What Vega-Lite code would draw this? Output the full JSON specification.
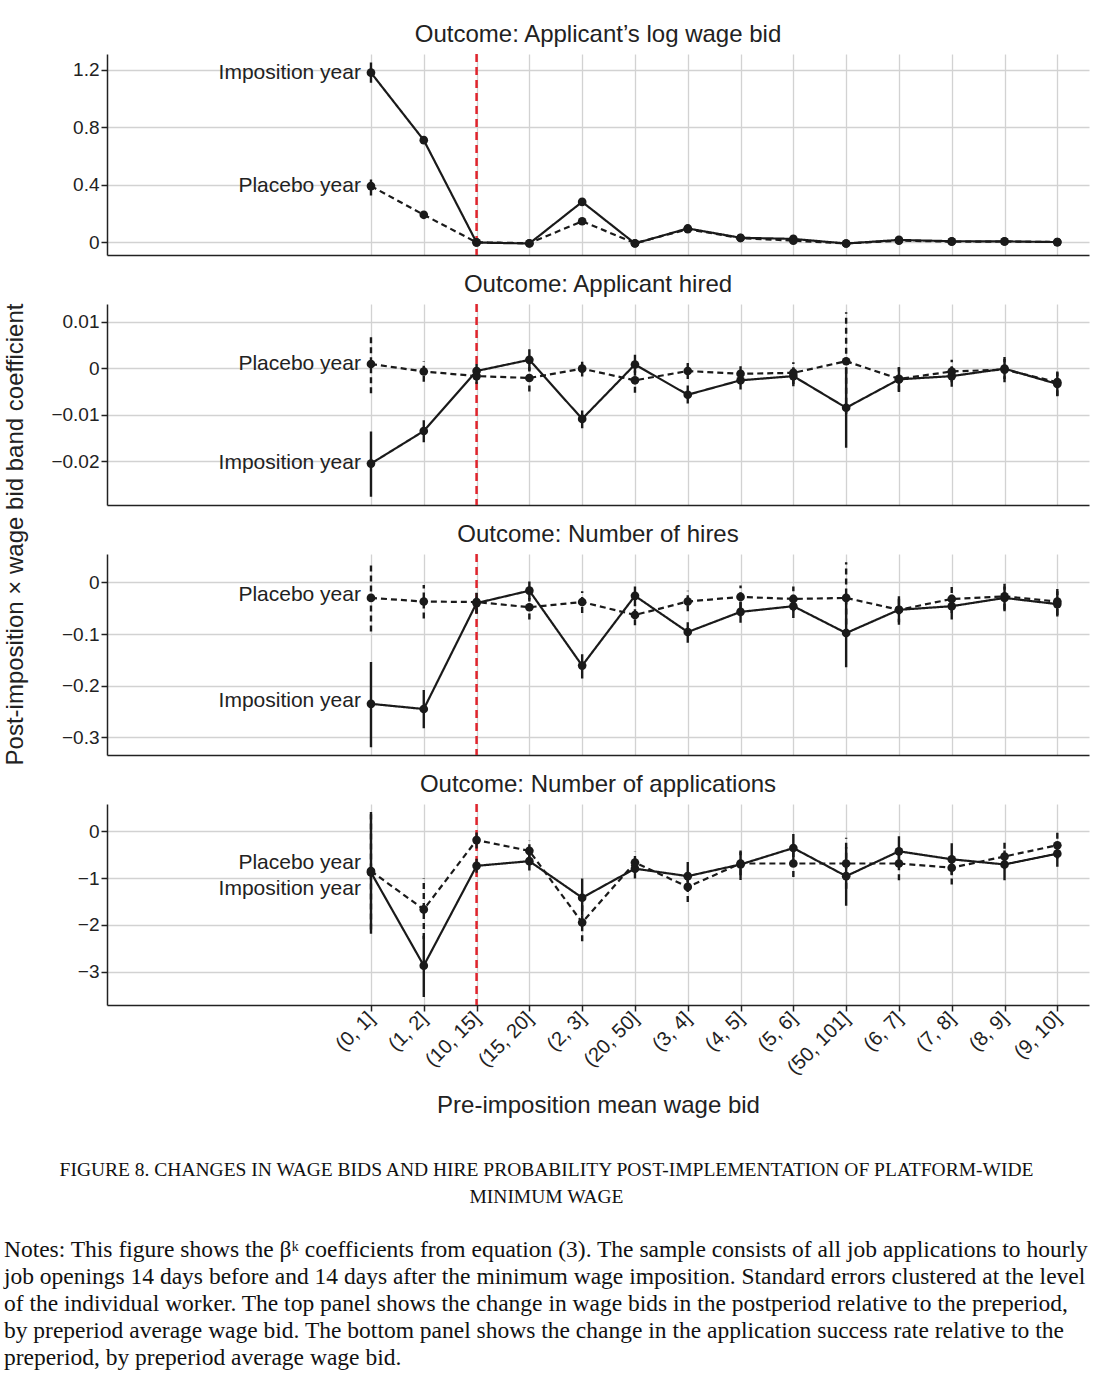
{
  "$schema": "https://vega.github.io/schema/vega-lite/v6.json",
  "padding": {"left": 3, "right": 12, "top": 22, "bottom": 8},
  "config": {
    "font": "Liberation Sans",
    "view": {"stroke": null},
    "axis": {"domainColor": "#222", "domainWidth": 1.5, "tickColor": "#222", "tickWidth": 1.5, "tickSize": 6, "gridColor": "#d2d2d2", "gridWidth": 1.3, "labelFont": "Liberation Sans", "labelFontSize": 19, "labelColor": "#222", "labelPadding": 2, "labelOverlap": false, "labelFlush": false, "labelBound": false, "titleFont": "Liberation Sans", "titleFontSize": 24, "titleFontWeight": "normal", "titleColor": "#222"},
    "title": {"font": "Liberation Sans", "fontSize": 24, "fontWeight": "normal", "color": "#222", "offset": 6, "frame": "group"}
  },
  "datasets": {
    "pts": [
      {"p":1,"k":1,"s":"Imposition year","est":1.18,"lo":1.11,"hi":1.25},
      {"p":1,"k":2,"s":"Imposition year","est":0.71,"lo":0.69,"hi":0.73},
      {"p":1,"k":3,"s":"Imposition year","est":-0.003,"lo":-0.01,"hi":0.005},
      {"p":1,"k":4,"s":"Imposition year","est":-0.01,"lo":-0.017,"hi":-0.003},
      {"p":1,"k":5,"s":"Imposition year","est":0.28,"lo":0.27,"hi":0.29},
      {"p":1,"k":6,"s":"Imposition year","est":-0.01,"lo":-0.017,"hi":-0.003},
      {"p":1,"k":7,"s":"Imposition year","est":0.095,"lo":0.088,"hi":0.102},
      {"p":1,"k":8,"s":"Imposition year","est":0.03,"lo":0.024,"hi":0.036},
      {"p":1,"k":9,"s":"Imposition year","est":0.022,"lo":0.016,"hi":0.028},
      {"p":1,"k":10,"s":"Imposition year","est":-0.01,"lo":-0.016,"hi":-0.004},
      {"p":1,"k":11,"s":"Imposition year","est":0.015,"lo":0.009,"hi":0.021},
      {"p":1,"k":12,"s":"Imposition year","est":0.006,"lo":0.0,"hi":0.012},
      {"p":1,"k":13,"s":"Imposition year","est":0.005,"lo":0.0,"hi":0.01},
      {"p":1,"k":14,"s":"Imposition year","est":0.0,"lo":-0.005,"hi":0.005},
      {"p":1,"k":1,"s":"Placebo year","est":0.39,"lo":0.325,"hi":0.455},
      {"p":1,"k":2,"s":"Placebo year","est":0.19,"lo":0.18,"hi":0.2},
      {"p":1,"k":3,"s":"Placebo year","est":-0.002,"lo":-0.009,"hi":0.005},
      {"p":1,"k":4,"s":"Placebo year","est":-0.008,"lo":-0.015,"hi":-0.001},
      {"p":1,"k":5,"s":"Placebo year","est":0.145,"lo":0.135,"hi":0.155},
      {"p":1,"k":6,"s":"Placebo year","est":-0.008,"lo":-0.014,"hi":-0.002},
      {"p":1,"k":7,"s":"Placebo year","est":0.09,"lo":0.083,"hi":0.097},
      {"p":1,"k":8,"s":"Placebo year","est":0.028,"lo":0.022,"hi":0.034},
      {"p":1,"k":9,"s":"Placebo year","est":0.01,"lo":0.004,"hi":0.016},
      {"p":1,"k":10,"s":"Placebo year","est":-0.01,"lo":-0.016,"hi":-0.004},
      {"p":1,"k":11,"s":"Placebo year","est":0.01,"lo":0.004,"hi":0.016},
      {"p":1,"k":12,"s":"Placebo year","est":0.003,"lo":-0.002,"hi":0.008},
      {"p":1,"k":13,"s":"Placebo year","est":0.004,"lo":-0.001,"hi":0.009},
      {"p":1,"k":14,"s":"Placebo year","est":0.0,"lo":-0.005,"hi":0.005},

      {"p":2,"k":1,"s":"Imposition year","est":-0.0205,"lo":-0.0276,"hi":-0.0136},
      {"p":2,"k":2,"s":"Imposition year","est":-0.0135,"lo":-0.0159,"hi":-0.0112},
      {"p":2,"k":3,"s":"Imposition year","est":-0.0006,"lo":-0.0023,"hi":0.0009},
      {"p":2,"k":4,"s":"Imposition year","est":0.0018,"lo":-0.0005,"hi":0.0041},
      {"p":2,"k":5,"s":"Imposition year","est":-0.0109,"lo":-0.0129,"hi":-0.0091},
      {"p":2,"k":6,"s":"Imposition year","est":0.0008,"lo":-0.0016,"hi":0.0029},
      {"p":2,"k":7,"s":"Imposition year","est":-0.0057,"lo":-0.0076,"hi":-0.0037},
      {"p":2,"k":8,"s":"Imposition year","est":-0.0026,"lo":-0.0046,"hi":-0.0005},
      {"p":2,"k":9,"s":"Imposition year","est":-0.0017,"lo":-0.0039,"hi":0.0002},
      {"p":2,"k":10,"s":"Imposition year","est":-0.0085,"lo":-0.0171,"hi":0.0002},
      {"p":2,"k":11,"s":"Imposition year","est":-0.0024,"lo":-0.0051,"hi":0.0002},
      {"p":2,"k":12,"s":"Imposition year","est":-0.0017,"lo":-0.004,"hi":0.0002},
      {"p":2,"k":13,"s":"Imposition year","est":-0.0001,"lo":-0.0023,"hi":0.002},
      {"p":2,"k":14,"s":"Imposition year","est":-0.0034,"lo":-0.0059,"hi":-0.0007},
      {"p":2,"k":1,"s":"Placebo year","est":0.0009,"lo":-0.0054,"hi":0.0071},
      {"p":2,"k":2,"s":"Placebo year","est":-0.0007,"lo":-0.0029,"hi":0.0015},
      {"p":2,"k":3,"s":"Placebo year","est":-0.0017,"lo":-0.0034,"hi":-0.0001},
      {"p":2,"k":4,"s":"Placebo year","est":-0.0021,"lo":-0.005,"hi":0.0002},
      {"p":2,"k":5,"s":"Placebo year","est":-0.0001,"lo":-0.0018,"hi":0.0014},
      {"p":2,"k":6,"s":"Placebo year","est":-0.0026,"lo":-0.0053,"hi":-0.0005},
      {"p":2,"k":7,"s":"Placebo year","est":-0.0006,"lo":-0.0023,"hi":0.0011},
      {"p":2,"k":8,"s":"Placebo year","est":-0.0012,"lo":-0.003,"hi":0.0007},
      {"p":2,"k":9,"s":"Placebo year","est":-0.001,"lo":-0.0034,"hi":0.0013},
      {"p":2,"k":10,"s":"Placebo year","est":0.0015,"lo":-0.0098,"hi":0.012},
      {"p":2,"k":11,"s":"Placebo year","est":-0.0023,"lo":-0.005,"hi":0.0002},
      {"p":2,"k":12,"s":"Placebo year","est":-0.0007,"lo":-0.003,"hi":0.0018},
      {"p":2,"k":13,"s":"Placebo year","est":-0.0003,"lo":-0.003,"hi":0.0024},
      {"p":2,"k":14,"s":"Placebo year","est":-0.003,"lo":-0.006,"hi":-0.0009},

      {"p":3,"k":1,"s":"Imposition year","est":-0.235,"lo":-0.319,"hi":-0.154},
      {"p":3,"k":2,"s":"Imposition year","est":-0.245,"lo":-0.282,"hi":-0.208},
      {"p":3,"k":3,"s":"Imposition year","est":-0.04,"lo":-0.06,"hi":-0.02},
      {"p":3,"k":4,"s":"Imposition year","est":-0.016,"lo":-0.037,"hi":0.002},
      {"p":3,"k":5,"s":"Imposition year","est":-0.161,"lo":-0.186,"hi":-0.139},
      {"p":3,"k":6,"s":"Imposition year","est":-0.026,"lo":-0.046,"hi":-0.008},
      {"p":3,"k":7,"s":"Imposition year","est":-0.096,"lo":-0.117,"hi":-0.077},
      {"p":3,"k":8,"s":"Imposition year","est":-0.057,"lo":-0.078,"hi":-0.037},
      {"p":3,"k":9,"s":"Imposition year","est":-0.046,"lo":-0.069,"hi":-0.024},
      {"p":3,"k":10,"s":"Imposition year","est":-0.098,"lo":-0.164,"hi":-0.03},
      {"p":3,"k":11,"s":"Imposition year","est":-0.053,"lo":-0.077,"hi":-0.027},
      {"p":3,"k":12,"s":"Imposition year","est":-0.046,"lo":-0.072,"hi":-0.024},
      {"p":3,"k":13,"s":"Imposition year","est":-0.03,"lo":-0.056,"hi":-0.008},
      {"p":3,"k":14,"s":"Imposition year","est":-0.042,"lo":-0.066,"hi":-0.017},
      {"p":3,"k":1,"s":"Placebo year","est":-0.03,"lo":-0.095,"hi":0.037},
      {"p":3,"k":2,"s":"Placebo year","est":-0.037,"lo":-0.07,"hi":-0.005},
      {"p":3,"k":3,"s":"Placebo year","est":-0.038,"lo":-0.06,"hi":-0.021},
      {"p":3,"k":4,"s":"Placebo year","est":-0.048,"lo":-0.072,"hi":-0.03},
      {"p":3,"k":5,"s":"Placebo year","est":-0.038,"lo":-0.059,"hi":-0.017},
      {"p":3,"k":6,"s":"Placebo year","est":-0.063,"lo":-0.083,"hi":-0.043},
      {"p":3,"k":7,"s":"Placebo year","est":-0.037,"lo":-0.056,"hi":-0.016},
      {"p":3,"k":8,"s":"Placebo year","est":-0.028,"lo":-0.05,"hi":-0.006},
      {"p":3,"k":9,"s":"Placebo year","est":-0.032,"lo":-0.056,"hi":-0.008},
      {"p":3,"k":10,"s":"Placebo year","est":-0.03,"lo":-0.101,"hi":0.039},
      {"p":3,"k":11,"s":"Placebo year","est":-0.053,"lo":-0.082,"hi":-0.03},
      {"p":3,"k":12,"s":"Placebo year","est":-0.032,"lo":-0.059,"hi":-0.005},
      {"p":3,"k":13,"s":"Placebo year","est":-0.027,"lo":-0.053,"hi":0.0},
      {"p":3,"k":14,"s":"Placebo year","est":-0.037,"lo":-0.063,"hi":-0.01},

      {"p":4,"k":1,"s":"Imposition year","est":-0.88,"lo":-2.19,"hi":0.41},
      {"p":4,"k":2,"s":"Imposition year","est":-2.87,"lo":-3.54,"hi":-2.23},
      {"p":4,"k":3,"s":"Imposition year","est":-0.74,"lo":-0.89,"hi":-0.59},
      {"p":4,"k":4,"s":"Imposition year","est":-0.64,"lo":-0.84,"hi":-0.44},
      {"p":4,"k":5,"s":"Imposition year","est":-1.42,"lo":-1.8,"hi":-1.01},
      {"p":4,"k":6,"s":"Imposition year","est":-0.8,"lo":-1.01,"hi":-0.59},
      {"p":4,"k":7,"s":"Imposition year","est":-0.96,"lo":-1.26,"hi":-0.66},
      {"p":4,"k":8,"s":"Imposition year","est":-0.71,"lo":-1.04,"hi":-0.41},
      {"p":4,"k":9,"s":"Imposition year","est":-0.36,"lo":-0.66,"hi":-0.06},
      {"p":4,"k":10,"s":"Imposition year","est":-0.96,"lo":-1.59,"hi":-0.34},
      {"p":4,"k":11,"s":"Imposition year","est":-0.43,"lo":-0.76,"hi":-0.11},
      {"p":4,"k":12,"s":"Imposition year","est":-0.6,"lo":-0.94,"hi":-0.26},
      {"p":4,"k":13,"s":"Imposition year","est":-0.71,"lo":-1.05,"hi":-0.41},
      {"p":4,"k":14,"s":"Imposition year","est":-0.48,"lo":-0.76,"hi":-0.23},
      {"p":4,"k":1,"s":"Placebo year","est":-0.85,"lo":-2.1,"hi":0.36},
      {"p":4,"k":2,"s":"Placebo year","est":-1.67,"lo":-2.3,"hi":-1.01},
      {"p":4,"k":3,"s":"Placebo year","est":-0.19,"lo":-0.37,"hi":-0.01},
      {"p":4,"k":4,"s":"Placebo year","est":-0.42,"lo":-0.62,"hi":-0.19},
      {"p":4,"k":5,"s":"Placebo year","est":-1.95,"lo":-2.35,"hi":-1.55},
      {"p":4,"k":6,"s":"Placebo year","est":-0.67,"lo":-0.87,"hi":-0.44},
      {"p":4,"k":7,"s":"Placebo year","est":-1.19,"lo":-1.51,"hi":-0.91},
      {"p":4,"k":8,"s":"Placebo year","est":-0.69,"lo":-0.94,"hi":-0.44},
      {"p":4,"k":9,"s":"Placebo year","est":-0.69,"lo":-0.98,"hi":-0.44},
      {"p":4,"k":10,"s":"Placebo year","est":-0.69,"lo":-1.23,"hi":-0.14},
      {"p":4,"k":11,"s":"Placebo year","est":-0.69,"lo":-1.05,"hi":-0.41},
      {"p":4,"k":12,"s":"Placebo year","est":-0.78,"lo":-1.14,"hi":-0.51},
      {"p":4,"k":13,"s":"Placebo year","est":-0.54,"lo":-0.8,"hi":-0.19},
      {"p":4,"k":14,"s":"Placebo year","est":-0.3,"lo":-0.59,"hi":0.02}
    ],
    "labs": [
      {"p":1,"k":1,"s":"Imposition year","ty":1.18},
      {"p":1,"k":1,"s":"Placebo year","ty":0.39},
      {"p":2,"k":1,"s":"Placebo year","ty":0.001},
      {"p":2,"k":1,"s":"Imposition year","ty":-0.0203},
      {"p":3,"k":1,"s":"Placebo year","ty":-0.025},
      {"p":3,"k":1,"s":"Imposition year","ty":-0.23},
      {"p":4,"k":1,"s":"Placebo year","ty":-0.68},
      {"p":4,"k":1,"s":"Imposition year","ty":-1.24}
    ],
    "cut": [
      {"p":1,"k":3},{"p":2,"k":3},{"p":3,"k":3},{"p":4,"k":3}
    ]
  },
  "title": {
    "text": [
      "Notes: This figure shows the βᵏ coefficients from equation (3). The sample consists of all job applications to hourly",
      "job openings 14 days before and 14 days after the minimum wage imposition. Standard errors clustered at the level",
      "of the individual worker. The top panel shows the change in wage bids in the postperiod relative to the preperiod,",
      "by preperiod average wage bid. The bottom panel shows the change in the application success rate relative to the",
      "preperiod, by preperiod average wage bid."
    ],
    "orient": "bottom", "anchor": "start", "frame": "bounds",
    "font": "Liberation Serif", "fontSize": 23.5, "fontWeight": "normal", "lineHeight": 27, "offset": 32, "color": "#111"
  },
  "vconcat": [
    {
      "title": {
        "text": ["FIGURE 8. CHANGES IN WAGE BIDS AND HIRE PROBABILITY POST-IMPLEMENTATION OF PLATFORM-WIDE", "MINIMUM WAGE"],
        "orient": "bottom", "anchor": "middle", "frame": "bounds",
        "font": "Liberation Serif", "fontSize": 19.5, "fontWeight": "normal", "lineHeight": 27, "offset": 43, "color": "#111"
      },
      "bounds": "flush",
      "spacing": 49,
      "vconcat": [
        {
          "width": 982, "height": 201,
          "title": {"text": "Outcome: Applicant’s log wage bid"},
          "data": {"name": "pts"},
          "transform": [{"filter": "datum.p == 1"}],
          "encoding": {
            "x": {"field": "k", "type": "quantitative", "scale": {"domain": [-4, 14.6], "nice": false, "zero": false},
                  "axis": {"values": [1,2,3,4,5,6,7,8,9,10,11,12,13,14], "labels": false, "ticks": false, "title": null}}
          },
          "resolve": {"axis": {"y": "independent"}},
          "layer": [
            {"data": {"name": "cut"}, "transform": [{"filter": "datum.p == 1"}],
             "mark": {"type": "rule", "color": "#e0242c", "strokeWidth": 2.5, "strokeDash": [8, 5]}, "encoding": {}},
            {"mark": {"type": "rule", "color": "#1a1a1a", "strokeWidth": 2.4},
             "encoding": {
               "y": {"field": "lo", "type": "quantitative", "scale": {"domain": [-0.09, 1.31], "nice": false, "zero": false},
                     "axis": {"values": [0, 0.4, 0.8, 1.2], "format": ".3~g", "title": null}},
               "y2": {"field": "hi"},
               "strokeDash": {"field": "s", "type": "nominal", "scale": {"domain": ["Imposition year", "Placebo year"], "range": [[1, 0], [6, 4]]}, "legend": null}
             }},
            {"mark": {"type": "line", "color": "#1a1a1a", "strokeWidth": 2.2},
             "encoding": {"y": {"field": "est", "type": "quantitative",
                                "axis": {"orient": "right", "values": [0.2, 0.6, 1.0], "labels": false, "ticks": false, "domain": false, "title": null}},
                          "strokeDash": {"field": "s", "type": "nominal", "legend": null}}},
            {"mark": {"type": "point", "filled": true, "shape": "circle", "size": 75, "color": "#1a1a1a", "opacity": 1},
             "encoding": {"y": {"field": "est", "type": "quantitative", "axis": null}}},
            {"data": {"name": "labs"}, "transform": [{"filter": "datum.p == 1"}],
             "mark": {"type": "text", "align": "right", "baseline": "middle", "dx": -10, "fontSize": 21, "color": "#222"},
             "encoding": {"y": {"field": "ty", "type": "quantitative", "axis": null}, "text": {"field": "s"}}}
          ]
        },
        {
          "width": 982, "height": 201,
          "title": {"text": "Outcome: Applicant hired"},
          "data": {"name": "pts"},
          "transform": [{"filter": "datum.p == 2"}],
          "encoding": {
            "x": {"field": "k", "type": "quantitative", "scale": {"domain": [-4, 14.6], "nice": false, "zero": false},
                  "axis": {"values": [1,2,3,4,5,6,7,8,9,10,11,12,13,14], "labels": false, "ticks": false, "title": null}}
          },
          "resolve": {"axis": {"y": "independent"}},
          "layer": [
            {"data": {"name": "cut"}, "transform": [{"filter": "datum.p == 2"}],
             "mark": {"type": "rule", "color": "#e0242c", "strokeWidth": 2.5, "strokeDash": [8, 5]}, "encoding": {}},
            {"mark": {"type": "rule", "color": "#1a1a1a", "strokeWidth": 2.4},
             "encoding": {
               "y": {"field": "lo", "type": "quantitative", "scale": {"domain": [-0.0294, 0.0138], "nice": false, "zero": false},
                     "axis": {"values": [-0.02, -0.01, 0, 0.01], "format": ".3~g",
                              "title": "Post-imposition × wage bid band coefficient", "titleY": 230, "titlePadding": 23}},
               "y2": {"field": "hi"},
               "strokeDash": {"field": "s", "type": "nominal", "scale": {"domain": ["Imposition year", "Placebo year"], "range": [[1, 0], [6, 4]]}, "legend": null}
             }},
            {"mark": {"type": "line", "color": "#1a1a1a", "strokeWidth": 2.2},
             "encoding": {"y": {"field": "est", "type": "quantitative",
                                "axis": {"orient": "right", "values": [-0.025, -0.015, -0.005, 0.005], "labels": false, "ticks": false, "domain": false, "title": null}},
                          "strokeDash": {"field": "s", "type": "nominal", "legend": null}}},
            {"mark": {"type": "point", "filled": true, "shape": "circle", "size": 75, "color": "#1a1a1a", "opacity": 1},
             "encoding": {"y": {"field": "est", "type": "quantitative", "axis": null}}},
            {"data": {"name": "labs"}, "transform": [{"filter": "datum.p == 2"}],
             "mark": {"type": "text", "align": "right", "baseline": "middle", "dx": -10, "fontSize": 21, "color": "#222"},
             "encoding": {"y": {"field": "ty", "type": "quantitative", "axis": null}, "text": {"field": "s"}}}
          ]
        },
        {
          "width": 982, "height": 201,
          "title": {"text": "Outcome: Number of hires"},
          "data": {"name": "pts"},
          "transform": [{"filter": "datum.p == 3"}],
          "encoding": {
            "x": {"field": "k", "type": "quantitative", "scale": {"domain": [-4, 14.6], "nice": false, "zero": false},
                  "axis": {"values": [1,2,3,4,5,6,7,8,9,10,11,12,13,14], "labels": false, "ticks": false, "title": null}}
          },
          "resolve": {"axis": {"y": "independent"}},
          "layer": [
            {"data": {"name": "cut"}, "transform": [{"filter": "datum.p == 3"}],
             "mark": {"type": "rule", "color": "#e0242c", "strokeWidth": 2.5, "strokeDash": [8, 5]}, "encoding": {}},
            {"mark": {"type": "rule", "color": "#1a1a1a", "strokeWidth": 2.4},
             "encoding": {
               "y": {"field": "lo", "type": "quantitative", "scale": {"domain": [-0.334, 0.055], "nice": false, "zero": false},
                     "axis": {"values": [-0.3, -0.2, -0.1, 0], "format": ".3~g", "title": null}},
               "y2": {"field": "hi"},
               "strokeDash": {"field": "s", "type": "nominal", "scale": {"domain": ["Imposition year", "Placebo year"], "range": [[1, 0], [6, 4]]}, "legend": null}
             }},
            {"mark": {"type": "line", "color": "#1a1a1a", "strokeWidth": 2.2},
             "encoding": {"y": {"field": "est", "type": "quantitative",
                                "axis": {"orient": "right", "values": [-0.25, -0.15, -0.05, 0.05], "labels": false, "ticks": false, "domain": false, "title": null}},
                          "strokeDash": {"field": "s", "type": "nominal", "legend": null}}},
            {"mark": {"type": "point", "filled": true, "shape": "circle", "size": 75, "color": "#1a1a1a", "opacity": 1},
             "encoding": {"y": {"field": "est", "type": "quantitative", "axis": null}}},
            {"data": {"name": "labs"}, "transform": [{"filter": "datum.p == 3"}],
             "mark": {"type": "text", "align": "right", "baseline": "middle", "dx": -10, "fontSize": 21, "color": "#222"},
             "encoding": {"y": {"field": "ty", "type": "quantitative", "axis": null}, "text": {"field": "s"}}}
          ]
        },
        {
          "width": 982, "height": 201,
          "title": {"text": "Outcome: Number of applications"},
          "data": {"name": "pts"},
          "transform": [{"filter": "datum.p == 4"}],
          "encoding": {
            "x": {"field": "k", "type": "quantitative", "scale": {"domain": [-4, 14.6], "nice": false, "zero": false},
                  "axis": {"values": [1,2,3,4,5,6,7,8,9,10,11,12,13,14], "title": "Pre-imposition mean wage bid", "titlePadding": 16,
                           "labelAngle": -45, "labelAlign": "right", "labelBaseline": "middle", "labelPadding": 4, "labelOverlap": false, "labelFontSize": 20,
                           "labelExpr": "['(0, 1]','(1, 2]','(10, 15]','(15, 20]','(2, 3]','(20, 50]','(3, 4]','(4, 5]','(5, 6]','(50, 101]','(6, 7]','(7, 8]','(8, 9]','(9, 10]'][datum.value - 1]"}}
          },
          "resolve": {"axis": {"y": "independent"}},
          "layer": [
            {"data": {"name": "cut"}, "transform": [{"filter": "datum.p == 4"}],
             "mark": {"type": "rule", "color": "#e0242c", "strokeWidth": 2.5, "strokeDash": [8, 5]}, "encoding": {}},
            {"mark": {"type": "rule", "color": "#1a1a1a", "strokeWidth": 2.4},
             "encoding": {
               "y": {"field": "lo", "type": "quantitative", "scale": {"domain": [-3.71, 0.58], "nice": false, "zero": false},
                     "axis": {"values": [-3, -2, -1, 0], "format": ".3~g", "title": null}},
               "y2": {"field": "hi"},
               "strokeDash": {"field": "s", "type": "nominal", "scale": {"domain": ["Imposition year", "Placebo year"], "range": [[1, 0], [6, 4]]}, "legend": null}
             }},
            {"mark": {"type": "line", "color": "#1a1a1a", "strokeWidth": 2.2},
             "encoding": {"y": {"field": "est", "type": "quantitative",
                                "axis": {"orient": "right", "values": [-3.5, -2.5, -1.5, -0.5, 0.5], "labels": false, "ticks": false, "domain": false, "title": null}},
                          "strokeDash": {"field": "s", "type": "nominal", "legend": null}}},
            {"mark": {"type": "point", "filled": true, "shape": "circle", "size": 75, "color": "#1a1a1a", "opacity": 1},
             "encoding": {"y": {"field": "est", "type": "quantitative", "axis": null}}},
            {"data": {"name": "labs"}, "transform": [{"filter": "datum.p == 4"}],
             "mark": {"type": "text", "align": "right", "baseline": "middle", "dx": -10, "fontSize": 21, "color": "#222"},
             "encoding": {"y": {"field": "ty", "type": "quantitative", "axis": null}, "text": {"field": "s"}}}
          ]
        }
      ]
    }
  ]
}
